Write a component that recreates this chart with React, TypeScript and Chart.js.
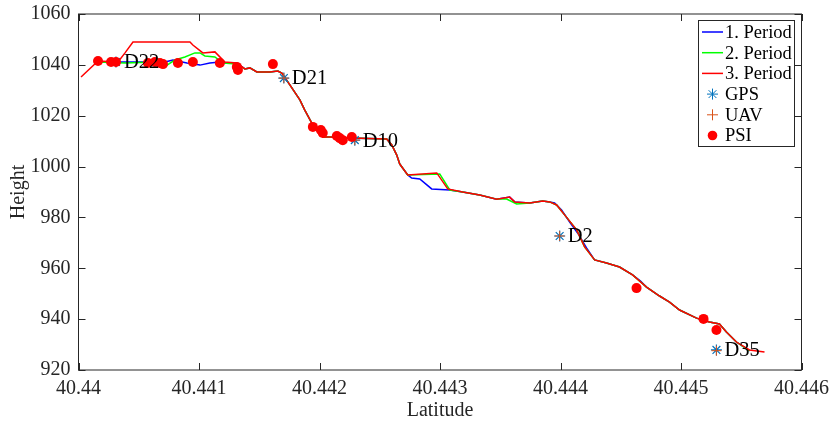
import React, { useEffect, useRef } from 'react';
import { Chart, registerables } from 'chart.js';

Chart.register(...registerables);

// ---- data ----
const period1Lat = [40.440153, 40.440593, 40.440717, 40.440784, 40.4409, 40.441008, 40.44109, 40.441173, 40.441231, 40.441314, 40.441381, 40.441422, 40.44148, 40.441588, 40.441654, 40.441687, 40.441754, 40.441837, 40.441878, 40.441936, 40.442027, 40.442085, 40.442251, 40.442558, 40.4426, 40.442641, 40.442666, 40.442732, 40.442765, 40.442832, 40.442931, 40.443081, 40.443188, 40.443329, 40.44347, 40.443578, 40.44362, 40.443744, 40.443852, 40.44391, 40.443951, 40.444009, 40.444076, 40.444142, 40.444216, 40.444283, 40.444382, 40.44449, 40.444598, 40.444664, 40.444714, 40.444822, 40.444905, 40.444988, 40.445129, 40.445236, 40.445319, 40.445377, 40.44546, 40.445568];
const period1Height = [1041.1, 1041.1, 1041.1, 1041.9, 1040.7, 1039.9, 1040.7, 1041.1, 1040.7, 1040.7, 1038.4, 1038.8, 1037.2, 1037.2, 1037.6, 1036.8, 1032.1, 1026.2, 1022.2, 1017.1, 1011.6, 1011.6, 1011.2, 1010.8, 1008.5, 1004.5, 1001.0, 996.7, 995.5, 995.1, 991.2, 990.8, 990.0, 988.8, 987.2, 988.0, 986.1, 985.7, 986.5, 986.1, 985.7, 982.9, 978.2, 973.9, 968.0, 963.3, 962.1, 960.5, 957.4, 955.0, 952.6, 949.1, 946.7, 943.6, 940.4, 938.9, 938.1, 934.9, 931.0, 927.5];

const period2Lat = [40.440153, 40.440386, 40.440634, 40.440734, 40.4408, 40.440883, 40.440966, 40.441008, 40.441049, 40.441132, 40.441198, 40.441314, 40.441381, 40.441422, 40.44148, 40.441588, 40.441654, 40.441687, 40.441754, 40.441837, 40.441878, 40.441936, 40.442027, 40.442085, 40.442251, 40.442558, 40.4426, 40.442641, 40.442666, 40.442732, 40.442998, 40.443081, 40.443188, 40.443329, 40.44347, 40.443553, 40.443636, 40.443744, 40.443852, 40.44391, 40.443968, 40.444034, 40.444134, 40.4442, 40.444283, 40.444382, 40.44449, 40.444598, 40.444714, 40.444822, 40.444905, 40.444988, 40.445129, 40.445236, 40.445319, 40.445377, 40.44546, 40.445568];
const period2Height = [1041.1, 1040.7, 1041.1, 1039.9, 1041.9, 1043.1, 1044.7, 1044.7, 1043.5, 1043.1, 1040.7, 1040.3, 1038.4, 1038.8, 1037.2, 1037.2, 1037.6, 1036.8, 1032.1, 1026.2, 1022.2, 1017.1, 1011.6, 1011.6, 1011.2, 1010.8, 1008.5, 1004.5, 1001.0, 996.7, 997.1, 990.8, 990.0, 988.8, 987.2, 987.2, 985.3, 985.7, 986.5, 986.1, 984.9, 981.0, 975.1, 968.4, 963.3, 962.1, 960.5, 957.4, 952.6, 949.1, 946.7, 943.6, 940.4, 938.9, 938.1, 934.9, 931.0, 927.5];

const period3Lat = [40.440021, 40.440162, 40.440328, 40.440386, 40.440452, 40.440925, 40.440949, 40.441032, 40.441132, 40.441215, 40.441314, 40.441381, 40.441422, 40.44148, 40.441588, 40.441654, 40.441687, 40.441754, 40.441837, 40.441878, 40.441936, 40.442027, 40.442085, 40.442251, 40.442558, 40.4426, 40.442641, 40.442666, 40.442732, 40.442973, 40.443064, 40.443188, 40.443329, 40.44347, 40.443578, 40.44362, 40.443744, 40.443852, 40.44391, 40.443968, 40.444034, 40.444134, 40.4442, 40.444283, 40.444382, 40.44449, 40.444598, 40.444714, 40.444822, 40.444905, 40.444988, 40.445129, 40.445236, 40.445319, 40.445377, 40.44546, 40.445568, 40.445693];
const period3Height = [1035.2, 1041.5, 1041.1, 1044.7, 1049.0, 1049.0, 1047.8, 1044.7, 1045.1, 1041.1, 1040.7, 1038.4, 1038.8, 1037.2, 1037.2, 1037.6, 1036.8, 1032.1, 1026.2, 1022.2, 1017.1, 1011.6, 1011.6, 1011.2, 1010.8, 1008.5, 1004.5, 1001.0, 996.7, 997.5, 991.2, 990.0, 988.8, 987.2, 988.0, 986.1, 985.7, 986.5, 986.1, 984.9, 981.0, 975.1, 968.4, 963.3, 962.1, 960.5, 957.4, 952.6, 949.1, 946.7, 943.6, 940.4, 938.9, 938.1, 934.9, 931.0, 927.9, 927.1];

const pointNames = ['D22', 'D21', 'D10', 'D2', 'D35'];
const gpsLat = [40.440311, 40.441704, 40.442293, 40.443993, 40.445294];
const gpsHeight = [1041.1, 1034.8, 1010.4, 972.7, 927.9];
const uavLat = [40.440311, 40.441704, 40.442293, 40.443993, 40.445294];
const uavHeight = [1041.1, 1034.8, 1010.4, 972.7, 927.6];

const psiLat = [40.440162, 40.44027, 40.440311, 40.440576, 40.440634, 40.440676, 40.440701, 40.440825, 40.440949, 40.441173, 40.441314, 40.441323, 40.441613, 40.441945, 40.442011, 40.442027, 40.442144, 40.442168, 40.442193, 40.442268, 40.444631, 40.445187, 40.445294];
const psiHeight = [1041.5, 1041.1, 1041.1, 1040.7, 1041.1, 1040.7, 1040.3, 1040.7, 1041.1, 1040.7, 1039.2, 1038.0, 1040.3, 1015.6, 1014.4, 1013.2, 1012.0, 1011.2, 1010.4, 1011.6, 952.2, 940.1, 935.7];

const xTicks = [40.44, 40.441, 40.442, 40.443, 40.444, 40.445, 40.446];
const xTickLabels = ['40.44', '40.441', '40.442', '40.443', '40.444', '40.445', '40.446'];
const yTicks = [920, 940, 960, 980, 1000, 1020, 1040, 1060];
const yTickLabels = ['920', '940', '960', '980', '1000', '1020', '1040', '1060'];

const seriesLabels = ['1. Period', '2. Period', '3. Period', 'GPS', 'UAV', 'PSI'];

const FONT = "'Liberation Serif', 'Times New Roman', serif";
const AXIS_COLOR = '#262626';

const zip = (xs: number[], ys: number[]) => xs.map((x, i) => ({ x, y: ys[i] }));

const framePlugin = {
  id: 'frameTicks',
  afterDatasetsDraw(chart: any) {
    const { ctx, chartArea } = chart;
    const { left, right, top, bottom } = chartArea;
    const xs = chart.scales.x;
    const ys = chart.scales.y;
    ctx.save();
    ctx.strokeStyle = AXIS_COLOR;
    ctx.lineWidth = 1;
    ctx.strokeRect(left, top, right - left, bottom - top);
    const L = 7;
    ctx.beginPath();
    xTicks.forEach((v) => {
      const px = Math.round(xs.getPixelForValue(v)) + 0.5;
      ctx.moveTo(px, bottom);
      ctx.lineTo(px, bottom - L);
      ctx.moveTo(px, top);
      ctx.lineTo(px, top + L);
    });
    yTicks.forEach((v) => {
      const py = Math.round(ys.getPixelForValue(v)) + 0.5;
      ctx.moveTo(left, py);
      ctx.lineTo(left + L, py);
      ctx.moveTo(right, py);
      ctx.lineTo(right - L, py);
    });
    ctx.stroke();
    ctx.restore();
  },
};

const labelPlugin = {
  id: 'pointNames',
  afterDraw(chart: any) {
    const { ctx } = chart;
    const xs = chart.scales.x;
    const ys = chart.scales.y;
    ctx.save();
    ctx.font = `20.5px ${FONT}`;
    ctx.fillStyle = '#000';
    ctx.textAlign = 'left';
    ctx.textBaseline = 'middle';
    pointNames.forEach((name, i) => {
      const px = xs.getPixelForValue(gpsLat[i]);
      const py = ys.getPixelForValue(gpsHeight[i]);
      ctx.fillText(name, px + 8, py + 1);
    });
    ctx.restore();
  },
};

function drawMarker(ctx: CanvasRenderingContext2D, kind: string, color: string, cx: number, cy: number, r: number) {
  ctx.save();
  ctx.strokeStyle = color;
  ctx.fillStyle = color;
  ctx.lineWidth = 1;
  if (kind === 'circle') {
    ctx.beginPath();
    ctx.arc(cx, cy, r, 0, Math.PI * 2);
    ctx.fill();
  } else if (kind === 'cross') {
    ctx.beginPath();
    ctx.moveTo(cx - r, cy);
    ctx.lineTo(cx + r, cy);
    ctx.moveTo(cx, cy - r);
    ctx.lineTo(cx, cy + r);
    ctx.stroke();
  } else if (kind === 'star') {
    ctx.beginPath();
    ctx.moveTo(cx - r, cy);
    ctx.lineTo(cx + r, cy);
    ctx.moveTo(cx, cy - r);
    ctx.lineTo(cx, cy + r);
    const d = r * Math.SQRT1_2;
    ctx.moveTo(cx - d, cy - d);
    ctx.lineTo(cx + d, cy + d);
    ctx.moveTo(cx - d, cy + d);
    ctx.lineTo(cx + d, cy - d);
    ctx.stroke();
  }
  ctx.restore();
}

const legendPlugin = {
  id: 'boxLegend',
  afterDraw(chart: any) {
    const { ctx } = chart;
    const boxL = 698.5, boxT = 20.5, boxW = 96, boxH = 126;
    ctx.save();
    ctx.fillStyle = '#fff';
    ctx.fillRect(boxL, boxT, boxW, boxH);
    ctx.strokeStyle = AXIS_COLOR;
    ctx.lineWidth = 1;
    ctx.strokeRect(boxL, boxT, boxW, boxH);
    ctx.font = `18.5px ${FONT}`;
    ctx.textBaseline = 'middle';
    ctx.textAlign = 'left';
    chart.data.datasets.forEach((ds: any, i: number) => {
      const cy = 32 + i * 20.7;
      if (ds.showLine) {
        ctx.strokeStyle = ds.borderColor;
        ctx.lineWidth = 1.5;
        ctx.beginPath();
        ctx.moveTo(702, cy);
        ctx.lineTo(723, cy);
        ctx.stroke();
      } else {
        const color = ds.pointStyle === 'circle' ? ds.backgroundColor : ds.borderColor;
        drawMarker(ctx, ds.pointStyle, color, 712.5, cy, ds.pointStyle === 'circle' ? 4.8 : 5.5);
      }
      ctx.fillStyle = '#000';
      ctx.fillText(ds.label, 725, cy + 1);
    });
    ctx.restore();
  },
};

const zeroPadding = (scale: any) => {
  scale.paddingTop = 0;
  scale.paddingBottom = 0;
  scale.paddingLeft = 0;
  scale.paddingRight = 0;
};

export default function App() {
  const canvasRef = useRef<HTMLCanvasElement | null>(null);

  useEffect(() => {
    document.body.style.margin = '0';
    const canvas = canvasRef.current;
    if (!canvas) return;
    const lineDs = (label: string, xs: number[], ys: number[], color: string, order: number) => ({
      label,
      data: zip(xs, ys),
      showLine: true,
      borderColor: color,
      backgroundColor: color,
      borderWidth: 1.5,
      pointRadius: 0,
      pointHoverRadius: 0,
      tension: 0,
      order,
    });
    const chart = new Chart(canvas, {
      type: 'scatter',
      data: {
        datasets: [
          lineDs(seriesLabels[0], period1Lat, period1Height, '#0000FF', 5),
          lineDs(seriesLabels[1], period2Lat, period2Height, '#00FF00', 4),
          lineDs(seriesLabels[2], period3Lat, period3Height, '#FF0000', 3),
          {
            label: seriesLabels[3],
            data: zip(gpsLat, gpsHeight),
            showLine: false,
            pointStyle: 'star',
            pointRadius: 5.5,
            borderColor: '#0072BD',
            backgroundColor: '#0072BD',
            borderWidth: 1.2,
            order: 2,
          },
          {
            label: seriesLabels[4],
            data: zip(uavLat, uavHeight),
            showLine: false,
            pointStyle: 'cross',
            pointRadius: 5,
            borderColor: '#D95319',
            backgroundColor: '#D95319',
            borderWidth: 1,
            order: 1,
          },
          {
            label: seriesLabels[5],
            data: zip(psiLat, psiHeight),
            showLine: false,
            pointStyle: 'circle',
            pointRadius: 5,
            borderWidth: 0,
            borderColor: '#FF0000',
            backgroundColor: '#FF0000',
            order: 0,
          },
        ],
      } as any,
      options: {
        animation: false,
        responsive: false,
        devicePixelRatio: 1,
        layout: { padding: { left: 0, top: 14, right: 30.5, bottom: 0 } },
        plugins: {
          legend: { display: false },
          tooltip: { enabled: false },
        },
        scales: {
          x: {
            type: 'linear',
            min: 40.44,
            max: 40.446,
            afterBuildTicks: (scale: any) => {
              scale.ticks = xTicks.map((v) => ({ value: v }));
            },
            afterFit: (scale: any) => {
              scale.height = 54;
              zeroPadding(scale);
            },
            grid: { display: false, drawTicks: false },
            border: { display: false },
            ticks: {
              autoSkip: false,
              maxRotation: 0,
              padding: 7,
              color: AXIS_COLOR,
              font: { family: FONT, size: 20 },
              callback: (_v: any, i: number) => xTickLabels[i],
            },
            title: {
              display: true,
              text: 'Latitude',
              color: AXIS_COLOR,
              font: { family: FONT, size: 20 },
              padding: { top: 0, bottom: 1 },
            },
          },
          y: {
            type: 'linear',
            min: 920,
            max: 1060,
            afterBuildTicks: (scale: any) => {
              scale.ticks = yTicks.map((v) => ({ value: v }));
            },
            afterFit: (scale: any) => {
              scale.width = 78.5;
              zeroPadding(scale);
            },
            grid: { display: false, drawTicks: false },
            border: { display: false },
            ticks: {
              autoSkip: false,
              padding: 8,
              color: AXIS_COLOR,
              font: { family: FONT, size: 20 },
              callback: (_v: any, i: number) => yTickLabels[i],
            },
            title: {
              display: true,
              text: 'Height',
              color: AXIS_COLOR,
              font: { family: FONT, size: 20 },
              padding: { top: 7, bottom: 0 },
            },
          },
        },
      } as any,
      plugins: [framePlugin, labelPlugin, legendPlugin],
    });
    return () => chart.destroy();
  }, []);

  return (
    <div style={{ width: 832, height: 424 }}>
      <canvas ref={canvasRef} width={832} height={424} />
    </div>
  );
}
